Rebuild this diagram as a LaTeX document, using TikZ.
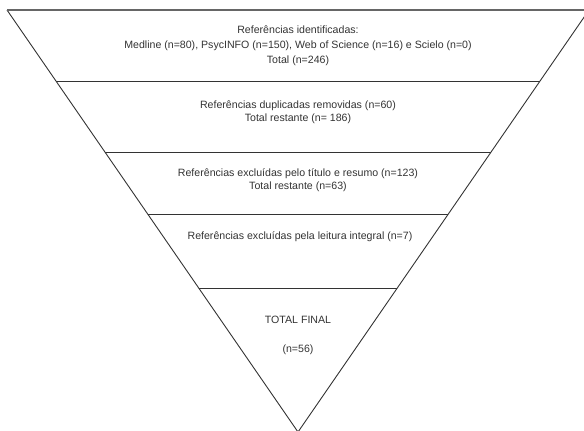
\documentclass[tikz,border=0pt]{standalone}
\usepackage{fontspec}
\setmainfont{Liberation Sans}
\begin{document}
\begin{tikzpicture}[x=1pt,y=-1pt,
  edge/.style={draw=black!80,line width=0.9pt},
  topedge/.style={draw=black!60,line width=1.4pt},
  label/.style={text=black!80,align=center,inner sep=0pt,font=\fontsize{10.6}{13.5}\selectfont},
  biglabel/.style={label,font=\fontsize{10.6}{15}\selectfont}]
\useasboundingbox (0,0) rectangle (584,431);
\clip (0,0) rectangle (584,431);
% triangle corners
\coordinate (tl) at (7,10);
\coordinate (tr) at (589,10);
\coordinate (ap) at (298,432);
% separator end points
\coordinate (s1l) at (56,81);    \coordinate (s1r) at (540,81);
\coordinate (s2l) at (104.9,152); \coordinate (s2r) at (491.1,152);
\coordinate (s3l) at (147.7,214); \coordinate (s3r) at (448.3,214);
\coordinate (s4l) at (198.7,288); \coordinate (s4r) at (397.3,288);
\draw[edge] (tl) -- (ap) -- (tr);
\draw[topedge] (tl) -- (tr);
\draw[edge] (s1l) -- (s1r);
\draw[edge] (s2l) -- (s2r);
\draw[edge] (s3l) -- (s3r);
\draw[edge] (s4l) -- (s4r);
% texts
\node[biglabel] (t1) at (298,46) {Referências identificadas:\\Medline (n=80), PsycINFO (n=150), Web of Science (n=16) e Scielo (n=0)\\Total (n=246)};
\node[label] (t2) at (298,112) {Referências duplicadas removidas (n=60)\\Total restante (n= 186)};
\node[label] (t3) at (298,180) {Referências excluídas pelo título e resumo (n=123)\\Total restante (n=63)};
\node[label] (t4) at (300,237) {Referências excluídas pela leitura integral (n=7)};
\node[label] (t5) at (298,320) {TOTAL FINAL};
\node[label] (t6) at (298,350) {(n=56)};
\end{tikzpicture}
\end{document}
